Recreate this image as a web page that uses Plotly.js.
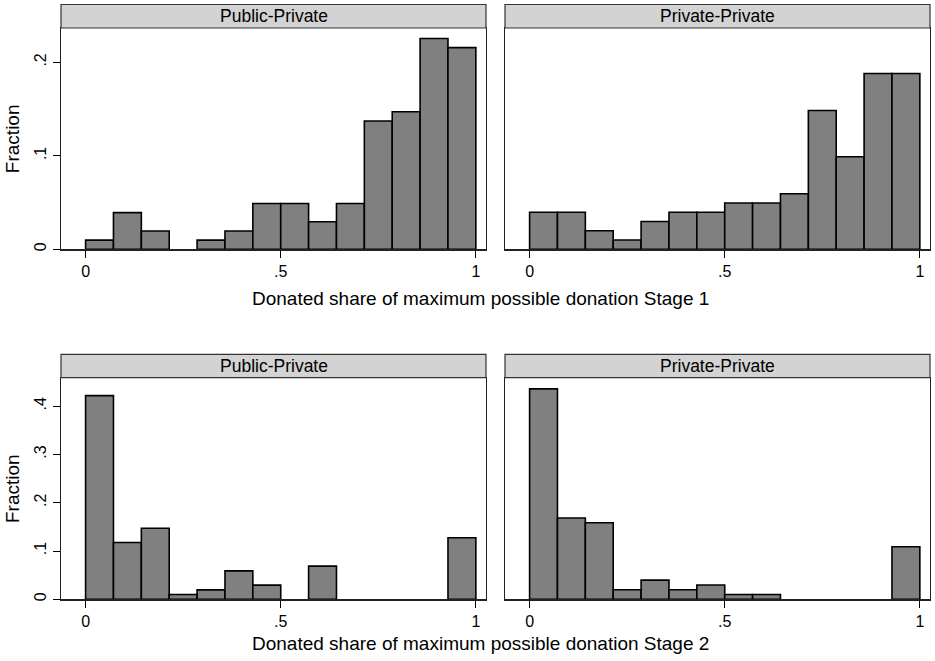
<!DOCTYPE html>
<html>
<head>
<meta charset="utf-8">
<script src="https://cdn.plot.ly/plotly-3.0.1.min.js"></script>
<style>html,body{margin:0;padding:0;background:#fff;}#chart{width:935px;height:661px;}</style>
</head>
<body>
<div id="chart"></div>
<script>
// ---- data ----
const binCount = 14;                       // equal-width bins on [0, 1]
const panelLabels = ["Public-Private", "Private-Private"];
const stageTitles = ["Donated share of maximum possible donation Stage 1",
                     "Donated share of maximum possible donation Stage 2"];
const yTitle = "Fraction";
const xTickVals = [0, 0.5, 1];
const xTickText = ["0", ".5", "1"];
const yTickValsStage1 = [0, 0.1, 0.2];
const yTickTextStage1 = ["0", ".1", ".2"];
const yTickValsStage2 = [0, 0.1, 0.2, 0.3, 0.4];
const yTickTextStage2 = ["0", ".1", ".2", ".3", ".4"];

const stage1PublicPrivate  = [0.0098, 0.0392, 0.0196, 0, 0.0098, 0.0196, 0.049, 0.049, 0.0294, 0.049, 0.1373, 0.1471, 0.2255, 0.2157];
const stage1PrivatePrivate = [0.0396, 0.0396, 0.0198, 0.0099, 0.0297, 0.0396, 0.0396, 0.0495, 0.0495, 0.0594, 0.1485, 0.099, 0.1881, 0.1881];
const stage2PublicPrivate  = [0.4216, 0.1176, 0.1471, 0.0098, 0.0196, 0.0588, 0.0294, 0, 0.0686, 0, 0, 0, 0, 0.1275];
const stage2PrivatePrivate = [0.4356, 0.1683, 0.1584, 0.0198, 0.0396, 0.0198, 0.0297, 0.0099, 0.0099, 0, 0, 0, 0, 0.1089];

// ---- layout helpers (pixel -> paper) ----
const W = 935, H = 661;
const px = v => v / W;
const py = v => 1 - v / H;
const FONT = "Liberation Sans, Arial, Helvetica, sans-serif";

const binWidth = 1 / binCount;
const binCenters = Array.from({length: binCount}, (_, i) => (i + 0.5) * binWidth);

const panelsX = [[61, 486], [505, 930]];
const rowsY = [{strip: [4.5, 28], plot: [28, 249.3]}, {strip: [354.3, 377.7], plot: [377.7, 599.3]}];
const series = [[stage1PublicPrivate, stage1PrivatePrivate], [stage2PublicPrivate, stage2PrivatePrivate]];
const yRanges = [[0, 0.2367], [0, 0.4588]];
const yTicks = [[yTickValsStage1, yTickTextStage1], [yTickValsStage2, yTickTextStage2]];

const traces = [];
const layout = {
  width: W, height: H,
  margin: {l: 0, r: 0, t: 0, b: 0},
  paper_bgcolor: "#fff", plot_bgcolor: "#fff",
  showlegend: false, bargap: 0,
  font: {family: FONT, color: "#000"},
  shapes: [], annotations: []
};

let k = 0;
for (let r = 0; r < 2; r++) {
  for (let c = 0; c < 2; c++) {
    k++;
    const sfx = k === 1 ? "" : String(k);
    traces.push({
      type: "bar",
      x: binCenters,
      y: series[r][c].map(v => v === 0 ? null : v),
      width: binWidth,
      xaxis: "x" + sfx, yaxis: "y" + sfx,
      marker: {color: "#808080", line: {color: "#000", width: 1.6}},
      hoverinfo: "x+y"
    });
    layout["xaxis" + sfx] = {
      domain: [px(panelsX[c][0]), px(panelsX[c][1])],
      anchor: "y" + sfx,
      range: [-0.063, 1.026],
      tickvals: xTickVals, ticktext: xTickText,
      ticks: "outside", ticklen: 7, tickwidth: 1, tickcolor: "#000",
      tickfont: {family: FONT, size: 16, color: "#000"},
      showline: true, linecolor: "#222", linewidth: 1.2, mirror: true,
      showgrid: false, zeroline: false, fixedrange: true
    };
    layout["yaxis" + sfx] = {
      domain: [py(rowsY[r].plot[1]), py(rowsY[r].plot[0])],
      anchor: "x" + sfx,
      range: yRanges[r],
      tickvals: c === 0 ? yTicks[r][0] : [],
      ticktext: c === 0 ? yTicks[r][1] : [],
      showticklabels: c === 0,
      ticks: c === 0 ? "outside" : "", ticklen: 7, tickwidth: 1, tickcolor: "#000",
      tickangle: -90,
      tickfont: {family: FONT, size: 16, color: "#000"},
      showline: true, linecolor: "#222", linewidth: 1.2, mirror: true,
      showgrid: false, zeroline: false, fixedrange: true
    };
    // strip header
    layout.shapes.push({
      type: "rect", xref: "paper", yref: "paper",
      x0: px(panelsX[c][0]), x1: px(panelsX[c][1]),
      y0: py(rowsY[r].strip[1]), y1: py(rowsY[r].strip[0]),
      fillcolor: "#d3d3d3", line: {color: "#333", width: 1.2}, layer: "above"
    });
    layout.annotations.push({
      xref: "paper", yref: "paper",
      x: px((panelsX[c][0] + panelsX[c][1]) / 2),
      y: py((rowsY[r].strip[0] + rowsY[r].strip[1]) / 2),
      text: panelLabels[c], showarrow: false,
      xanchor: "center", yanchor: "middle",
      font: {family: FONT, size: 17.5, color: "#000"}
    });
  }
  // y title
  layout.annotations.push({
    xref: "paper", yref: "paper",
    x: px(12.5), y: py((rowsY[r].plot[0] + rowsY[r].plot[1]) / 2),
    text: yTitle, textangle: -90, showarrow: false,
    xanchor: "center", yanchor: "middle",
    font: {family: FONT, size: 19, color: "#000"}
  });
  // x title
  layout.annotations.push({
    xref: "paper", yref: "paper",
    x: px(481), y: py(r === 0 ? 298 : 643),
    text: stageTitles[r], showarrow: false,
    xanchor: "center", yanchor: "middle",
    font: {family: FONT, size: 19, color: "#000"}
  });
}

Plotly.newPlot("chart", traces, layout, {displayModeBar: false, staticPlot: true});
</script>
</body>
</html>
